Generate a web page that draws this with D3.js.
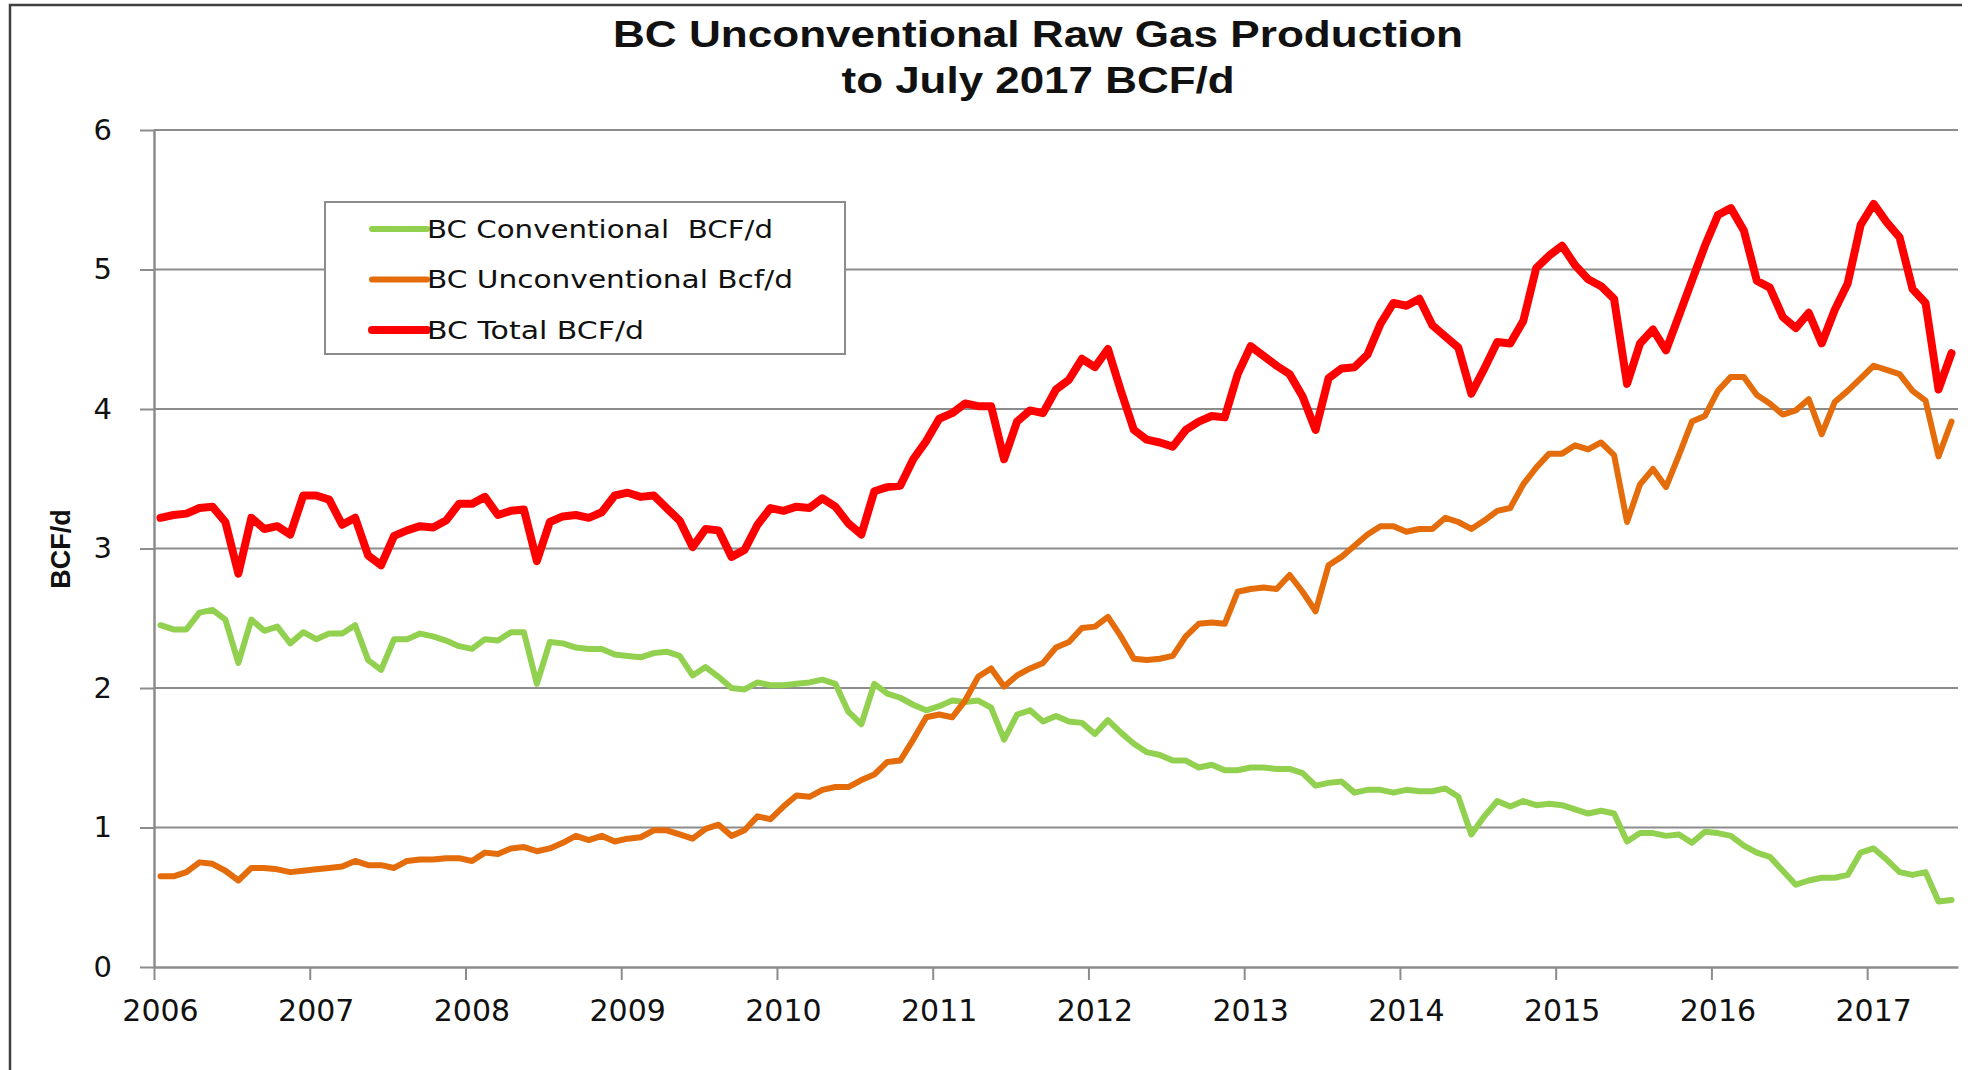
<!DOCTYPE html>
<html>
<head>
<meta charset="utf-8">
<script src="https://cdn.jsdelivr.net/npm/d3@7"></script>
<style>
  body { margin: 0; background: #fff; }
  text { white-space: pre; }
</style>
</head>
<body>
<div id="chart"></div>
<script>
// The data: monthly values, Jan 2006 to Jul 2017 (BCF/d)
var months = d3.timeMonth.range(new Date(2006, 0, 1), new Date(2017, 7, 1));
var yearLabels = ['2006', '2007', '2008', '2009', '2010', '2011', '2012', '2013', '2014', '2015', '2016', '2017'];
var yTicks = [0, 1, 2, 3, 4, 5, 6];

var conventional = [
  2.45, 2.42, 2.42, 2.54, 2.56, 2.49, 2.18, 2.49, 2.41, 2.44, 2.32, 2.40,
  2.35, 2.39, 2.39, 2.45, 2.20, 2.13, 2.35, 2.35, 2.39, 2.37, 2.34, 2.30,
  2.28, 2.35, 2.34, 2.40, 2.40, 2.03, 2.33, 2.32, 2.29, 2.28, 2.28, 2.24,
  2.23, 2.22, 2.25, 2.26, 2.23, 2.09, 2.15, 2.08, 2.00, 1.99, 2.04, 2.02,
  2.02, 2.03, 2.04, 2.06, 2.03, 1.83, 1.74, 2.03, 1.96, 1.93, 1.88, 1.84,
  1.87, 1.91, 1.90, 1.91, 1.86, 1.63, 1.81, 1.84, 1.76, 1.80, 1.76, 1.75,
  1.67, 1.77, 1.68, 1.60, 1.54, 1.52, 1.48, 1.48, 1.43, 1.45, 1.41, 1.41,
  1.43, 1.43, 1.42, 1.42, 1.39, 1.30, 1.32, 1.33, 1.25, 1.27, 1.27, 1.25,
  1.27, 1.26, 1.26, 1.28, 1.22, 0.95, 1.08, 1.19, 1.15, 1.19, 1.16, 1.17,
  1.16, 1.13, 1.10, 1.12, 1.10, 0.90, 0.96, 0.96, 0.94, 0.95, 0.89, 0.97,
  0.96, 0.94, 0.87, 0.82, 0.79, 0.69, 0.59, 0.62, 0.64, 0.64, 0.66, 0.82,
  0.85, 0.77, 0.68, 0.66, 0.68, 0.47, 0.48
];

var unconventional = [
  0.65, 0.65, 0.68, 0.75, 0.74, 0.69, 0.62, 0.71, 0.71, 0.70, 0.68, 0.69,
  0.70, 0.71, 0.72, 0.76, 0.73, 0.73, 0.71, 0.76, 0.77, 0.77, 0.78, 0.78,
  0.76, 0.82, 0.81, 0.85, 0.86, 0.83, 0.85, 0.89, 0.94, 0.91, 0.94, 0.90,
  0.92, 0.93, 0.98, 0.98, 0.95, 0.92, 0.99, 1.02, 0.94, 0.98, 1.08, 1.06,
  1.15, 1.23, 1.22, 1.27, 1.29, 1.29, 1.34, 1.38, 1.47, 1.48, 1.63, 1.79,
  1.81, 1.79, 1.91, 2.08, 2.14, 2.01, 2.09, 2.14, 2.18, 2.29, 2.33, 2.43,
  2.44, 2.51, 2.37, 2.21, 2.20, 2.21, 2.23, 2.37, 2.46, 2.47, 2.46, 2.69,
  2.71, 2.72, 2.71, 2.81, 2.69, 2.55, 2.88, 2.94, 3.02, 3.10, 3.16, 3.16,
  3.12, 3.14, 3.14, 3.22, 3.19, 3.14, 3.20, 3.27, 3.29, 3.46, 3.58, 3.68,
  3.68, 3.74, 3.71, 3.76, 3.67, 3.19, 3.46, 3.57, 3.44, 3.67, 3.91, 3.95,
  4.13, 4.23, 4.23, 4.10, 4.04, 3.96, 3.99, 4.07, 3.82, 4.05, 4.13, 4.22,
  4.31, 4.28, 4.25, 4.13, 4.06, 3.66, 3.91
];

var total = [
  3.22, 3.24, 3.25, 3.29, 3.30, 3.19, 2.82, 3.22, 3.14, 3.16, 3.10, 3.38,
  3.38, 3.35, 3.17, 3.22, 2.95, 2.88, 3.09, 3.13, 3.16, 3.15, 3.20, 3.32,
  3.32, 3.37, 3.24, 3.27, 3.28, 2.91, 3.19, 3.23, 3.24, 3.22, 3.26, 3.38,
  3.40, 3.37, 3.38, 3.29, 3.20, 3.01, 3.14, 3.13, 2.94, 2.99, 3.17, 3.29,
  3.27, 3.30, 3.29, 3.36, 3.30, 3.18, 3.10, 3.41, 3.44, 3.45, 3.64, 3.77,
  3.93, 3.97, 4.04, 4.02, 4.02, 3.64, 3.91, 3.99, 3.97, 4.14, 4.21, 4.36,
  4.30, 4.43, 4.13, 3.85, 3.78, 3.76, 3.73, 3.85, 3.91, 3.95, 3.94, 4.25,
  4.45, 4.38, 4.31, 4.25, 4.09, 3.85, 4.22, 4.29, 4.30, 4.39, 4.61, 4.76,
  4.74, 4.79, 4.60, 4.52, 4.44, 4.11, 4.29, 4.48, 4.47, 4.63, 5.01, 5.10,
  5.17, 5.03, 4.93, 4.88, 4.79, 4.18, 4.47, 4.57, 4.42, 4.67, 4.92, 5.17,
  5.39, 5.44, 5.28, 4.92, 4.87, 4.66, 4.58, 4.69, 4.47, 4.71, 4.90, 5.32,
  5.47, 5.34, 5.23, 4.86, 4.76, 4.14, 4.40
];

var seriesNames = ['BC Conventional  BCF/d', 'BC Unconventional Bcf/d', 'BC Total BCF/d'];
var seriesColors = ['#92d050', '#e46c0a', '#ff0000'];

// Chart dimensions
var W = 1980, H = 1070;
var margin = { top: 130, right: 22, bottom: 103, left: 154 },
    width = W - margin.left - margin.right,
    height = H - margin.top - margin.bottom;

var svg = d3.select('#chart').append('svg')
    .attr('width', W)
    .attr('height', H);

// Outer frame (left and top edges only)
svg.append('path')
    .attr('d', 'M10,' + H + 'V5H1962')
    .attr('fill', 'none')
    .attr('stroke', '#404040')
    .attr('stroke-width', 2.5);

var g = svg.append('g')
    .attr('transform', 'translate(' + margin.left + ',' + margin.top + ')');

// Category axis: one slot per month, points in the middle of each slot
var x = d3.scaleLinear().domain([0, months.length]).range([0, width]);
var y = d3.scaleLinear().domain([0, 6]).range([height, 0]);

// Gridlines
g.selectAll('.grid')
    .data(yTicks.filter(function(d) { return d > 0; }))
    .enter()
  .append('line')
    .attr('x1', 0)
    .attr('x2', width)
    .attr('y1', function(d) { return y(d); })
    .attr('y2', function(d) { return y(d); })
    .attr('stroke', '#8c8c8c')
    .attr('stroke-width', 2);

// Y axis
var yAxis = g.append('g')
    .call(d3.axisLeft(y).tickValues(yTicks).tickFormat(d3.format('d'))
      .tickSize(14).tickSizeOuter(0).tickPadding(28));
yAxis.select('.domain').attr('stroke', '#8c8c8c').attr('stroke-width', 2.5);
yAxis.selectAll('.tick line').attr('stroke', '#8c8c8c').attr('stroke-width', 2);
yAxis.selectAll('.tick text')
    .style('font-family', 'DejaVu Sans')
    .style('font-size', '29px')
    .attr('fill', '#111');

// X axis: tick marks every 12 months, year labels under January
var xAxis = g.append('g')
    .attr('transform', 'translate(0,' + height + ')')
    .call(d3.axisBottom(x).tickValues(d3.range(0, months.length, 12)).tickSize(13).tickSizeOuter(0).tickFormat(''));
xAxis.select('.domain').attr('stroke', '#8c8c8c').attr('stroke-width', 2.5);
xAxis.selectAll('.tick line').attr('stroke', '#8c8c8c').attr('stroke-width', 2);

g.selectAll('.year')
    .data(yearLabels)
    .enter()
  .append('text')
    .attr('x', function(d, i) { return x(i * 12 + 0.5); })
    .attr('y', height + 54)
    .attr('text-anchor', 'middle')
    .style('font-family', 'DejaVu Sans')
    .style('font-size', '30px')
    .attr('fill', '#111')
    .text(function(d) { return d; });

// Lines
var line = d3.line()
    .x(function(d, i) { return x(i + 0.5); })
    .y(function(d) { return y(d); });

var allSeries = [conventional, unconventional, total];
var widths = [6, 6, 8];

g.selectAll('.series')
    .data(allSeries)
    .enter()
  .append('path')
    .attr('d', line)
    .attr('fill', 'none')
    .attr('stroke', function(d, i) { return seriesColors[i]; })
    .attr('stroke-width', function(d, i) { return widths[i]; })
    .attr('stroke-linejoin', 'round')
    .attr('stroke-linecap', 'round');

// Y axis title
svg.append('text')
    .attr('transform', 'translate(70,549) rotate(-90)')
    .attr('text-anchor', 'middle')
    .style('font-family', 'Liberation Sans')
    .style('font-weight', 'bold')
    .style('font-size', '27px')
    .attr('fill', '#111')
    .text('BCF/d');

// Title
var titleLines = ['BC Unconventional Raw Gas Production', 'to July 2017 BCF/d'];
var titleLengths = [850, 393];
svg.selectAll('.title')
    .data(titleLines)
    .enter()
  .append('text')
    .attr('x', 1038)
    .attr('y', function(d, i) { return 47 + i * 46; })
    .attr('text-anchor', 'middle')
    .attr('textLength', function(d, i) { return titleLengths[i]; })
    .attr('lengthAdjust', 'spacingAndGlyphs')
    .style('font-family', 'Liberation Sans')
    .style('font-weight', 'bold')
    .style('font-size', '37px')
    .attr('fill', '#111')
    .text(function(d) { return d; });

// Legend
var legend = svg.append('g');
legend.append('rect')
    .attr('x', 325)
    .attr('y', 202)
    .attr('width', 520)
    .attr('height', 152)
    .attr('fill', '#fff')
    .attr('stroke', '#8c8c8c')
    .attr('stroke-width', 2);

var legendLengths = [346, 366, 217];
var item = legend.selectAll('.item')
    .data(seriesNames)
    .enter()
  .append('g')
    .attr('transform', function(d, i) { return 'translate(372,' + (229 + i * 50.5) + ')'; });

item.append('line')
    .attr('x1', 0)
    .attr('x2', 55)
    .attr('stroke', function(d, i) { return seriesColors[i]; })
    .attr('stroke-width', function(d, i) { return widths[i]; })
    .attr('stroke-linecap', 'round');

item.append('text')
    .attr('x', 55)
    .attr('dy', '0.35em')
    .attr('textLength', function(d, i) { return legendLengths[i]; })
    .attr('lengthAdjust', 'spacingAndGlyphs')
    .style('font-family', 'DejaVu Sans')
    .style('font-size', '25px')
    .attr('fill', '#111')
    .text(function(d) { return d; });
</script>
</body>
</html>
